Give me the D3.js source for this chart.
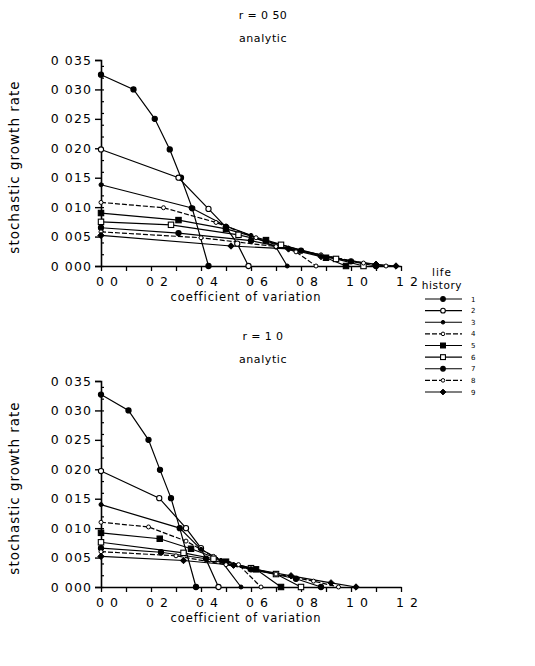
<!DOCTYPE html>
<html><head><meta charset="utf-8">
<script src="https://cdn.jsdelivr.net/npm/d3@7"></script>
<style>
body{margin:0;background:#fff;}
text{font-family:"DejaVu Sans",sans-serif;fill:#000;}
</style></head>
<body><svg id="c" width="535" height="666"></svg>
<script>
// ---- data ----
const seriesNames = ["1","2","3","4","5","6","7","8","9"];
const markerTypes = ["fcircle","ocircle","fsmall","osmall","fsquare","osquare","fcircle","osmall","fdiamond"];
const xTickValues = [0,0.2,0.4,0.6,0.8,1.0,1.2];
const xTickLabels = ["0 0","0 2","0 4","0 6","0 8","1 0","1 2"];
const yTickValues = [0,0.005,0.010,0.015,0.020,0.025,0.030,0.035];
const yTickLabels = ["0 000","0 005","0 010","0 015","0 020","0 025","0 030","0 035"];
const panelTitles = ["r = 0 50","r = 1 0"];
const panelSubtitles = ["analytic","analytic"];

// r = 0.50 panel : [cv, growth rate]
const top1 = [[0,0.0325],[0.13,0.030],[0.215,0.025],[0.275,0.0198],[0.32,0.015],[0.365,0.0098],[0.43,0]];
const top2 = [[0,0.0198],[0.31,0.015],[0.43,0.0097],[0.50,0.0066],[0.545,0.0038],[0.59,0]];
const top3 = [[0,0.0138],[0.36,0.0099],[0.50,0.0068],[0.60,0.0052],[0.70,0.0032],[0.745,0]];
const top4 = [[0,0.0108],[0.25,0.0099],[0.46,0.0074],[0.62,0.0048],[0.78,0.0024],[0.86,0]];
const top5 = [[0,0.0090],[0.31,0.0078],[0.50,0.0063],[0.66,0.0044],[0.90,0.0014],[0.98,0]];
const top6 = [[0,0.0075],[0.28,0.0070],[0.55,0.0053],[0.72,0.0036],[0.94,0.0012],[1.05,0]];
const top7 = [[0,0.0065],[0.31,0.0056],[0.60,0.0043],[0.80,0.0026],[1.00,0.0008],[1.10,0]];
const top8 = [[0,0.0058],[0.40,0.0048],[0.70,0.0033],[0.88,0.0019],[1.05,0.0005],[1.14,0]];
const top9 = [[0,0.0052],[0.52,0.0034],[0.75,0.0029],[0.88,0.0016],[1.10,0.0003],[1.18,0]];

// r = 1.0 panel
const bot1 = [[0,0.0327],[0.11,0.030],[0.19,0.025],[0.236,0.0199],[0.28,0.0151],[0.315,0.0100],[0.38,0]];
const bot2 = [[0,0.0197],[0.233,0.0151],[0.34,0.0100],[0.40,0.0066],[0.47,0]];
const bot3 = [[0,0.0140],[0.315,0.0100],[0.40,0.0064],[0.48,0.0045],[0.56,0]];
const bot4 = [[0,0.0110],[0.19,0.0102],[0.34,0.0078],[0.45,0.0052],[0.55,0.0038],[0.64,0]];
const bot5 = [[0,0.0092],[0.235,0.0082],[0.36,0.0065],[0.50,0.0043],[0.62,0.0030],[0.72,0]];
const bot6 = [[0,0.0076],[0.33,0.0058],[0.45,0.0048],[0.60,0.0032],[0.70,0.0022],[0.80,0]];
const bot7 = [[0,0.0066],[0.24,0.0059],[0.42,0.0048],[0.60,0.0030],[0.78,0.0014],[0.88,0]];
const bot8 = [[0,0.0060],[0.30,0.0053],[0.50,0.0038],[0.70,0.0022],[0.85,0.0010],[0.95,0]];
const bot9 = [[0,0.0052],[0.33,0.0045],[0.53,0.0037],[0.76,0.0019],[0.92,0.0007],[1.02,0]];

const panels = [
  [top1,top2,top3,top4,top5,top6,top7,top8,top9],
  [bot1,bot2,bot3,bot4,bot5,bot6,bot7,bot8,bot9]
];

// ---- layout ----
const svg = d3.select("#c");
const panelTop = [60, 381];
const plotH = 206, left = 101, plotW = 300;
const x = d3.scaleLinear().domain([0,1.2]).range([left, left+plotW]);

function marker(g, type, cx, cy, s){
  s = s || 1;
  const filled = type[0]==="f";
  const fill = filled ? "#000" : "#fff";
  if(type.endsWith("circle")) g.append("circle").attr("cx",cx).attr("cy",cy).attr("r",2.6*s).attr("fill",fill).attr("stroke","#000").attr("stroke-width",1.1);
  else if(type.endsWith("small")) g.append("circle").attr("cx",cx).attr("cy",cy).attr("r",2.0*s).attr("fill",fill).attr("stroke","#000").attr("stroke-width",1);
  else if(type.endsWith("square")) g.append("rect").attr("x",cx-2.7*s).attr("y",cy-2.7*s).attr("width",5.4*s).attr("height",5.4*s).attr("fill",fill).attr("stroke","#000").attr("stroke-width",1.1);
  else if(type.endsWith("diamond")) g.append("path").attr("d",`M${cx},${cy-3.2*s}L${cx+3.2*s},${cy}L${cx},${cy+3.2*s}L${cx-3.2*s},${cy}Z`).attr("fill",fill).attr("stroke","#000");
}
const dashes = [null,null,null,"5,2",null,null,null,"5,2",null];

panels.forEach((data,pi)=>{
  const t = panelTop[pi];
  const y = d3.scaleLinear().domain([0,0.035]).range([t+plotH, t]);
  const g = svg.append("g");
  // titles
  g.append("text").attr("x",263).attr("y",t-41).attr("text-anchor","middle").attr("font-size",11).attr("letter-spacing",0.4).text(panelTitles[pi]);
  g.append("text").attr("x",263).attr("y",t-18).attr("text-anchor","middle").attr("font-size",11).attr("letter-spacing",0.6).text(panelSubtitles[pi]);
  // axes
  const ya = d3.axisLeft(y).tickValues(yTickValues).tickFormat((d,i)=>yTickLabels[i]).tickSize(6).tickPadding(3);
  const yg = g.append("g").attr("transform",`translate(${left},0)`).call(ya);
  const xa = d3.axisBottom(x).tickValues(xTickValues).tickFormat((d,i)=>xTickLabels[i]).tickSize(0).tickPadding(11);
  const xg = g.append("g").attr("transform",`translate(0,${t+plotH})`).call(xa);
  [yg,xg].forEach(a=>{a.select(".domain").attr("stroke","#000").attr("stroke-width",1.6);
    a.selectAll(".tick line").attr("stroke","#000").attr("stroke-width",1.4);
    a.selectAll("text").attr("font-family","DejaVu Sans").attr("font-size",12.5).attr("letter-spacing",1.1).attr("fill","#000");});
  xg.selectAll(".tick text").attr("dx",6);
  // minor ticks
  g.append("g").attr("transform",`translate(${left},0)`).call(d3.axisLeft(y).ticks(14).tickSize(3).tickFormat(""))
    .call(a=>{a.select(".domain").remove(); a.selectAll("line").attr("stroke","#000").attr("stroke-width",1.2).attr("transform","translate(3,0)");});
  g.append("g").attr("transform",`translate(0,${t+plotH})`).call(d3.axisBottom(x).ticks(12).tickSize(5).tickFormat(""))
    .call(a=>{a.select(".domain").remove(); a.selectAll("line").attr("stroke","#000").attr("stroke-width",1.3);});
  // labels
  g.append("text").attr("transform",`translate(19,${t+plotH/2 + 4}) rotate(-90)`).attr("text-anchor","middle").attr("font-size",13.5).attr("letter-spacing",1).text("stochastic growth rate");
  g.append("text").attr("x",x(0.58)).attr("y",t+plotH+35).attr("text-anchor","middle").attr("font-size",11.5).attr("letter-spacing",0.9).text("coefficient of variation");
  // series
  const line = d3.line().x(d=>x(d[0])).y(d=>y(d[1]));
  data.forEach((s,si)=>{
    g.append("path").attr("d",line(s)).attr("fill","none").attr("stroke","#000").attr("stroke-width",1.2)
      .attr("stroke-dasharray",dashes[si]);
  });
  data.forEach((s,si)=>{
    s.forEach((d,k)=>{ marker(g, markerTypes[si], x(d[0]), y(d[1])); });
  });
});

// legend
const lg = svg.append("g");
lg.append("text").attr("x",442).attr("y",276).attr("text-anchor","middle").attr("font-size",10.5).attr("letter-spacing",1).text("life");
lg.append("text").attr("x",442).attr("y",289).attr("text-anchor","middle").attr("font-size",10.5).attr("letter-spacing",0.6).text("history");
const ly = d3.scalePoint().domain(seriesNames).range([299,392]);
seriesNames.forEach((n,i)=>{
  const yy = ly(n);
  lg.append("line").attr("x1",425).attr("x2",462).attr("y1",yy).attr("y2",yy).attr("stroke","#000").attr("stroke-width",1.2).attr("stroke-dasharray",dashes[i]);
  marker(lg, markerTypes[i], 443, yy, 0.9);
  lg.append("text").attr("x",471).attr("y",yy+2.5).attr("font-size",7).text(n);
});
</script></body></html>
